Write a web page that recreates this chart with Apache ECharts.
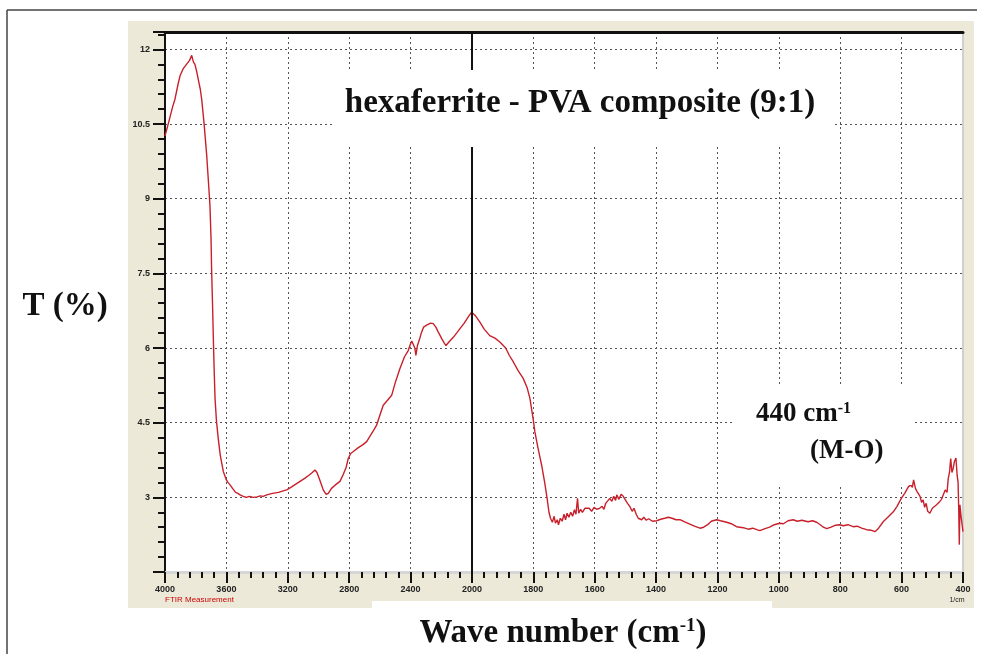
<!DOCTYPE html>
<html>
<head>
<meta charset="utf-8">
<style>
html,body{margin:0;padding:0;background:#fff;}
#chart{width:981px;height:654px;}
</style>
<script src="https://cdn.jsdelivr.net/npm/echarts@6/dist/echarts.min.js"></script>
</head>
<body>
<div id="chart"></div>
<script>
// ---- data ----
const wavenumbers = [
4000,3975,3950,3935,3915,3902,3890,3880,3870,3860,3850,3840,3826,3815,3805,3793,3780,3770,3761,3745,
3728,3715,3707,3700,3696,3690,3685,3680,3674,3665,3653,3640,3620,3600,3590,3576,3560,3540,3525,3511,
3490,3470,3450,3425,3400,3380,3360,3337,3300,3260,3230,3207,3180,3150,3120,3090,3060,3040,3023,3010,
2995,2980,2969,2950,2936,2915,2890,2860,2840,2820,2806,2790,2773,2740,2710,2686,2660,2640,2621,2600,
2578,2550,2523,2500,2469,2440,2415,2404,2392,2383,2372,2365,2355,2343,2330,2315,2295,2270,2252,2235,
2219,2195,2180,2169,2150,2120,2100,2078,2050,2025,2002,1990,1974,1960,1942,1925,1909,1890,1878,1865,
1850,1833,1820,1811,1800,1795,1785,1773,1763,1755,1749,1744,1738,1732,1728,1722,1718,1712,1706,1700,
1695,1690,1684,1678,1672,1666,1661,1656,1652,1646,1640,1632,1626,1618,1610,1602,1594,1584,1576,1570,
1564,1558,1551,1544,1538,1532,1528,1521,1514,1507,1500,1493,1486,1478,1472,1464,1458,1452,1447,1440,
1432,1424,1412,1398,1385,1372,1360,1348,1335,1322,1305,1290,1275,1257,1245,1232,1220,1203,1190,1170,
1155,1138,1116,1100,1085,1072,1062,1045,1030,1015,997,985,970,953,940,925,905,890,877,865,
855,844,830,815,802,790,775,758,745,730,714,700,687,675,660,645,627,615,601,590,
578,570,565,561,555,550,546,540,535,530,525,520,515,508,500,494,486,478,470,465,
458,452,448,444,440,436,432,428,423,419,416,414,412,410,406,400
];
const transmittance = [
10.26,10.55,10.85,11.0,11.3,11.47,11.5,11.62,11.58,11.7,11.68,11.78,11.88,11.75,11.7,11.55,11.35,11.2,11.0,10.5,
9.86,9.25,8.86,8.2,7.53,6.85,6.19,5.6,4.99,4.55,4.18,3.85,3.52,3.35,3.3,3.25,3.18,3.1,3.08,3.05,
3.02,3.0,3.02,3.0,3.01,3.03,3.02,3.05,3.08,3.1,3.13,3.15,3.2,3.26,3.32,3.38,3.45,3.5,3.55,3.5,
3.38,3.25,3.15,3.06,3.08,3.18,3.25,3.32,3.45,3.6,3.78,3.88,3.92,4.0,4.06,4.12,4.25,4.35,4.45,4.65,
4.85,4.95,5.05,5.3,5.59,5.82,5.95,6.05,6.14,6.12,6.0,5.85,6.05,6.16,6.3,6.42,6.46,6.5,6.49,6.42,
6.32,6.18,6.1,6.05,6.12,6.22,6.3,6.39,6.5,6.62,6.72,6.66,6.52,6.38,6.25,6.2,6.12,6.0,5.85,5.72,
5.55,5.39,5.2,4.99,4.55,4.32,4.0,3.65,3.3,2.98,2.7,2.58,2.5,2.62,2.48,2.55,2.45,2.58,2.52,2.66,
2.55,2.68,2.6,2.7,2.62,2.75,2.66,2.98,2.68,2.76,2.7,2.78,2.74,2.78,2.72,2.8,2.76,2.78,2.82,2.76,
2.88,2.84,2.98,2.92,3.02,2.94,3.05,2.96,3.06,3.02,2.95,2.88,2.82,2.72,2.78,2.65,2.58,2.6,2.55,2.6,
2.54,2.57,2.52,2.53,2.56,2.58,2.6,2.58,2.55,2.55,2.5,2.46,2.42,2.38,2.4,2.45,2.52,2.55,2.53,2.5,
2.47,2.41,2.39,2.36,2.38,2.35,2.33,2.37,2.4,2.45,2.48,2.47,2.53,2.55,2.52,2.54,2.51,2.53,2.5,2.45,
2.4,2.37,2.4,2.44,2.45,2.43,2.45,2.41,2.42,2.38,2.35,2.34,2.31,2.38,2.51,2.6,2.71,2.82,2.98,3.08,
3.21,3.25,3.2,3.35,3.18,3.12,3.08,3.02,2.9,2.95,2.8,2.88,2.72,2.68,2.78,2.82,2.85,2.9,2.96,2.98,
3.15,3.1,3.38,3.5,3.78,3.5,3.58,3.72,3.79,3.44,3.3,2.78,2.05,2.85,2.6,2.31
];
const xTickValues = [4000,3600,3200,2800,2400,2000,1800,1600,1400,1200,1000,800,600,400];
const yTickLabels = ['3','4.5','6','7.5','9','10.5','12'];
const markerWavenumber = 2000;

// FTIR axis: half scale above 2000 cm-1 (400 per division), 200 per division below
function toAxis(w) { return w >= 2000 ? (4000 - w) / 400 : 5 + (2000 - w) / 200; }

const seriesData = wavenumbers.map((w, i) => [toAxis(w), transmittance[i]]);

const chart = echarts.init(document.getElementById('chart'), null, {renderer: 'canvas'});
const serif = '"Liberation Serif", "Times New Roman", serif';
const beige = '#ece9d8';

chart.setOption({
  animation: false,
  backgroundColor: '#ffffff',
  grid: {left: 165, right: 18, top: 32, bottom: 82, show: false},
  xAxis: [{
    type: 'value', min: 0, max: 13, interval: 1, position: 'bottom',
    axisLine: {show: true, onZero: false, lineStyle: {color: '#d6d6d6', width: 3}},
    axisTick: {show: true, inside: false, length: 11, lineStyle: {color: '#111', width: 2}},
    minorTick: {show: true, splitNumber: 5, length: 6, lineStyle: {color: '#111', width: 2}},
    axisLabel: {margin: 13, fontSize: 9, fontWeight: 'bold', color: '#222', fontFamily: 'Liberation Sans Narrow, Liberation Sans, Arial',
      formatter: v => Number.isInteger(v) ? String(xTickValues[v]) : ''},
    splitLine: {show: true, lineStyle: {color: '#555', width: 1, type: [2, 3]}}
  }, {
    type: 'value', min: 0, max: 13, position: 'top',
    axisLine: {show: true, onZero: false, lineStyle: {color: '#111', width: 3}},
    axisTick: {show: false}, axisLabel: {show: false}, splitLine: {show: false}
  }],
  yAxis: [{
    type: 'value', min: 1.5, max: 12.35, interval: 1.5, position: 'left',
    axisLine: {show: true, onZero: false, lineStyle: {color: '#111', width: 2}},
    axisTick: {show: true, inside: false, length: 12, lineStyle: {color: '#111', width: 2}},
    minorTick: {show: true, splitNumber: 5, length: 7, lineStyle: {color: '#111', width: 2}},
    axisLabel: {margin: 15, fontSize: 9, fontWeight: 'bold', color: '#222', fontFamily: 'Liberation Sans Narrow, Liberation Sans, Arial',
      formatter: v => {
        const s = String(Math.round(v * 100) / 100);
        return yTickLabels.indexOf(s) >= 0 ? s : '';
      }},
    splitLine: {show: true, lineStyle: {color: '#555', width: 1, type: [2, 3]}}
  }, {
    type: 'value', min: 1.5, max: 12.35, position: 'right',
    axisLine: {show: true, onZero: false, lineStyle: {color: '#d0d0d0', width: 2}},
    axisTick: {show: false}, axisLabel: {show: false}, splitLine: {show: false}
  }],
  series: [{
    type: 'line',
    data: seriesData,
    showSymbol: false,
    symbol: 'none',
    lineStyle: {color: '#c8202a', width: 1.4},
    z: 3,
    markLine: {
      silent: true, symbol: 'none', label: {show: false},
      lineStyle: {color: '#111', width: 2, type: 'solid'},
      data: [{xAxis: toAxis(markerWavenumber)}]
    }
  }],
  graphic: [
    // beige panel behind the plot
    {type: 'rect', z: -100, shape: {x: 128, y: 21, width: 846, height: 580}, style: {fill: beige}},
    {type: 'rect', z: -100, shape: {x: 128, y: 590, width: 244, height: 18}, style: {fill: beige}},
    {type: 'rect', z: -100, shape: {x: 772, y: 590, width: 202, height: 18}, style: {fill: beige}},
    // white plot area
    {type: 'rect', z: -90, shape: {x: 165, y: 32, width: 798, height: 540}, style: {fill: '#ffffff'}},
    // outer frame (top and left)
    {type: 'line', z: 50, shape: {x1: 7, y1: 10, x2: 977, y2: 10}, style: {stroke: '#444', lineWidth: 1.5}},
    {type: 'line', z: 50, shape: {x1: 7, y1: 10, x2: 7, y2: 654}, style: {stroke: '#444', lineWidth: 1.5}},
    // title box
    {type: 'rect', z: 100, shape: {x: 335, y: 70, width: 497, height: 77}, style: {fill: '#ffffff'}},
    {type: 'text', z: 101, x: 580, y: 103, style: {text: 'hexaferrite - PVA composite (9:1)', font: 'bold 33px ' + serif, fill: '#111', align: 'center', verticalAlign: 'middle'}},
    // annotation box
    {type: 'rect', z: 100, shape: {x: 735, y: 385, width: 177, height: 100}, style: {fill: '#ffffff'}},
    {type: 'text', z: 101, x: 756, y: 414, style: {
      text: '440 cm{sup|-1}', font: 'bold 27px ' + serif, fill: '#111', align: 'left', verticalAlign: 'middle',
      rich: {sup: {font: 'bold 16px ' + serif, fill: '#111', verticalAlign: 'top', padding: [0, 0, 11, 0]}}}},
    {type: 'text', z: 101, x: 810, y: 451, style: {text: '(M-O)', font: 'bold 27px ' + serif, fill: '#111', align: 'left', verticalAlign: 'middle'}},
    // axis titles
    {type: 'text', z: 101, x: 65, y: 306, style: {text: 'T (%)', font: 'bold 33px ' + serif, fill: '#111', align: 'center', verticalAlign: 'middle'}},
    {type: 'text', z: 101, x: 563, y: 633, style: {
      text: 'Wave number (cm{sup|-1})', font: 'bold 33px ' + serif, fill: '#111', align: 'center', verticalAlign: 'middle',
      rich: {sup: {font: 'bold 19px ' + serif, fill: '#111', verticalAlign: 'top', padding: [0, 0, 13, 0]}}}},
    // instrument captions
    {type: 'text', z: 101, x: 165, y: 600, style: {text: 'FTIR Measurement', font: '8px "Liberation Sans", Arial', fill: '#cc0000', align: 'left', verticalAlign: 'middle'}},
    {type: 'text', z: 101, x: 957, y: 600, style: {text: '1/cm', font: '7px "Liberation Sans", Arial', fill: '#222', align: 'center', verticalAlign: 'middle'}}
  ]
});
</script>
</body>
</html>
